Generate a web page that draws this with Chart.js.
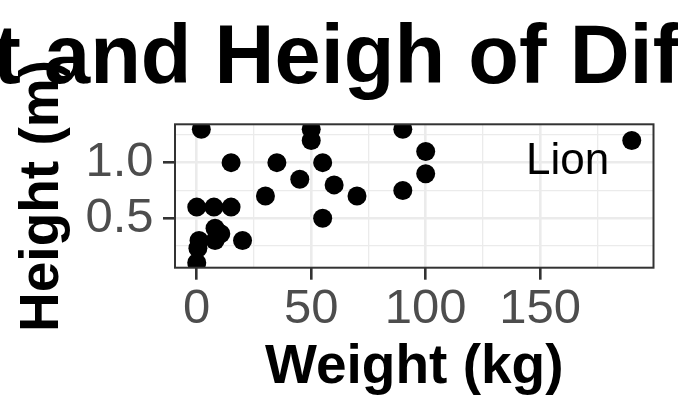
<!DOCTYPE html>
<html><head><meta charset="utf-8">
<script src="https://cdn.jsdelivr.net/npm/chart.js@4.4.1/dist/chart.umd.min.js"></script>
<style>html,body{margin:0;padding:0;background:#fff;} canvas{display:block;}</style>
</head><body>
<canvas id="c" width="678" height="420"></canvas>
<script>
const titleText = 'Weight and Heigh of Different Animals';
const xTitle = 'Weight (kg)';
const yTitle = 'Height (m)';
const weights = [2, 50, 50, 90, 15, 35, 55, 45, 60, 70, 30, 90, 100, 100, 190, 0, 7.5, 15, 55, 20, 0, 8, 10.5, 8, 1, 0.5];
const heights = [1.3, 1.3, 1.2, 1.3, 1.0, 1.0, 1.0, 0.85, 0.8, 0.7, 0.7, 0.75, 1.1, 0.9, 1.2, 0.6, 0.6, 0.6, 0.5, 0.3, 0.1, 0.41, 0.36, 0.3, 0.3, 0.23];
const xMajorTicks = [0, 50, 100, 150];
const xMinorTicks = [25, 75, 125, 175];
const yMajorTicks = [0.5, 1.0];
const yMinorTicks = [0.25, 0.75, 1.25];
const xLimits = [-9.5, 199.5];
const yLimits = [0.055, 1.345];
const labelTexts = ['Lion'];
const labelX = [162];
const labelY = [1.01];

const FAM = "'Liberation Sans', Arial, Helvetica, sans-serif";
const points = weights.map((w, i) => ({x: w, y: heights[i]}));
const isMajor = (list, v) => list.some(m => Math.abs(m - v) < 1e-9);
const gridOpts = (major) => ({
  color: '#EBEBEB',
  lineWidth: c => (c.tick && isMajor(major, c.tick.value)) ? 2.6 : 1.3,
  drawTicks: true,
  tickLength: 12,
  tickWidth: 2.6,
  tickColor: c => (c.tick && isMajor(major, c.tick.value)) ? '#333333' : 'rgba(0,0,0,0)'
});

const decor = {
  id: 'decor',
  afterDatasetsDraw(chart) {
    const {ctx, chartArea: a, scales: {x, y}} = chart;
    ctx.save();
    ctx.font = '44px ' + FAM;
    ctx.fillStyle = '#000000';
    ctx.textAlign = 'center';
    ctx.textBaseline = 'middle';
    labelTexts.forEach((t, i) => ctx.fillText(t, x.getPixelForValue(labelX[i]), y.getPixelForValue(labelY[i])));
    ctx.strokeStyle = '#333333';
    ctx.lineWidth = 2;
    ctx.strokeRect(a.left, a.top, a.right - a.left, a.bottom - a.top);
    ctx.restore();
  },
  afterDraw(chart) {
    const ctx = chart.ctx;
    ctx.save();
    ctx.font = 'bold 83px ' + FAM;
    ctx.fillStyle = '#000000';
    ctx.textAlign = 'left';
    ctx.textBaseline = 'alphabetic';
    const x0 = 44 - ctx.measureText('Weight ').width;
    ctx.fillText(titleText, x0, 83.3);
    ctx.restore();
  }
};

new Chart(document.getElementById('c'), {
  type: 'scatter',
  data: {
    datasets: [{
      data: points,
      backgroundColor: '#000000',
      borderWidth: 0,
      pointRadius: 9.5,
      pointHoverRadius: 9.5,
      clip: 0
    }]
  },
  options: {
    responsive: false,
    animation: false,
    devicePixelRatio: 1,
    layout: {padding: {left: 0, right: 24.5, top: 124.3, bottom: 0}},
    plugins: {legend: {display: false}, tooltip: {enabled: false}, title: {display: false}},
    scales: {
      x: {
        type: 'linear',
        min: xLimits[0], max: xLimits[1],
        afterBuildTicks: s => { s.ticks = [...xMajorTicks, ...xMinorTicks].sort((p, q) => p - q).map(v => ({value: v})); },
        afterFit: s => { s.height = 152.3; },
        grid: gridOpts(xMajorTicks),
        border: {display: false},
        ticks: {
          autoSkip: false, maxRotation: 0, padding: 5,
          color: '#4D4D4D',
          font: {family: FAM, size: 49, lineHeight: 1},
          callback: v => isMajor(xMajorTicks, v) ? String(v) : ''
        },
        title: {
          display: true, text: xTitle, color: '#000000',
          font: {family: FAM, size: 55, weight: 'bold', lineHeight: 1},
          padding: {top: 0, bottom: 25}
        }
      },
      y: {
        type: 'linear',
        min: yLimits[0], max: yLimits[1],
        afterBuildTicks: s => { s.ticks = [...yMajorTicks, ...yMinorTicks].sort((p, q) => p - q).map(v => ({value: v})); },
        afterFit: s => { s.width = 175; },
        grid: gridOpts(yMajorTicks),
        border: {display: false},
        ticks: {
          autoSkip: false, padding: 9.5,
          color: '#4D4D4D',
          font: {family: FAM, size: 49, lineHeight: 1},
          callback: v => isMajor(yMajorTicks, v) ? v.toFixed(1) : ''
        },
        title: {
          display: true, text: yTitle, color: '#000000',
          font: {family: FAM, size: 55, weight: 'bold', lineHeight: 1},
          padding: {top: 15.4, bottom: 0}
        }
      }
    }
  },
  plugins: [decor]
});
</script>
</body></html>
